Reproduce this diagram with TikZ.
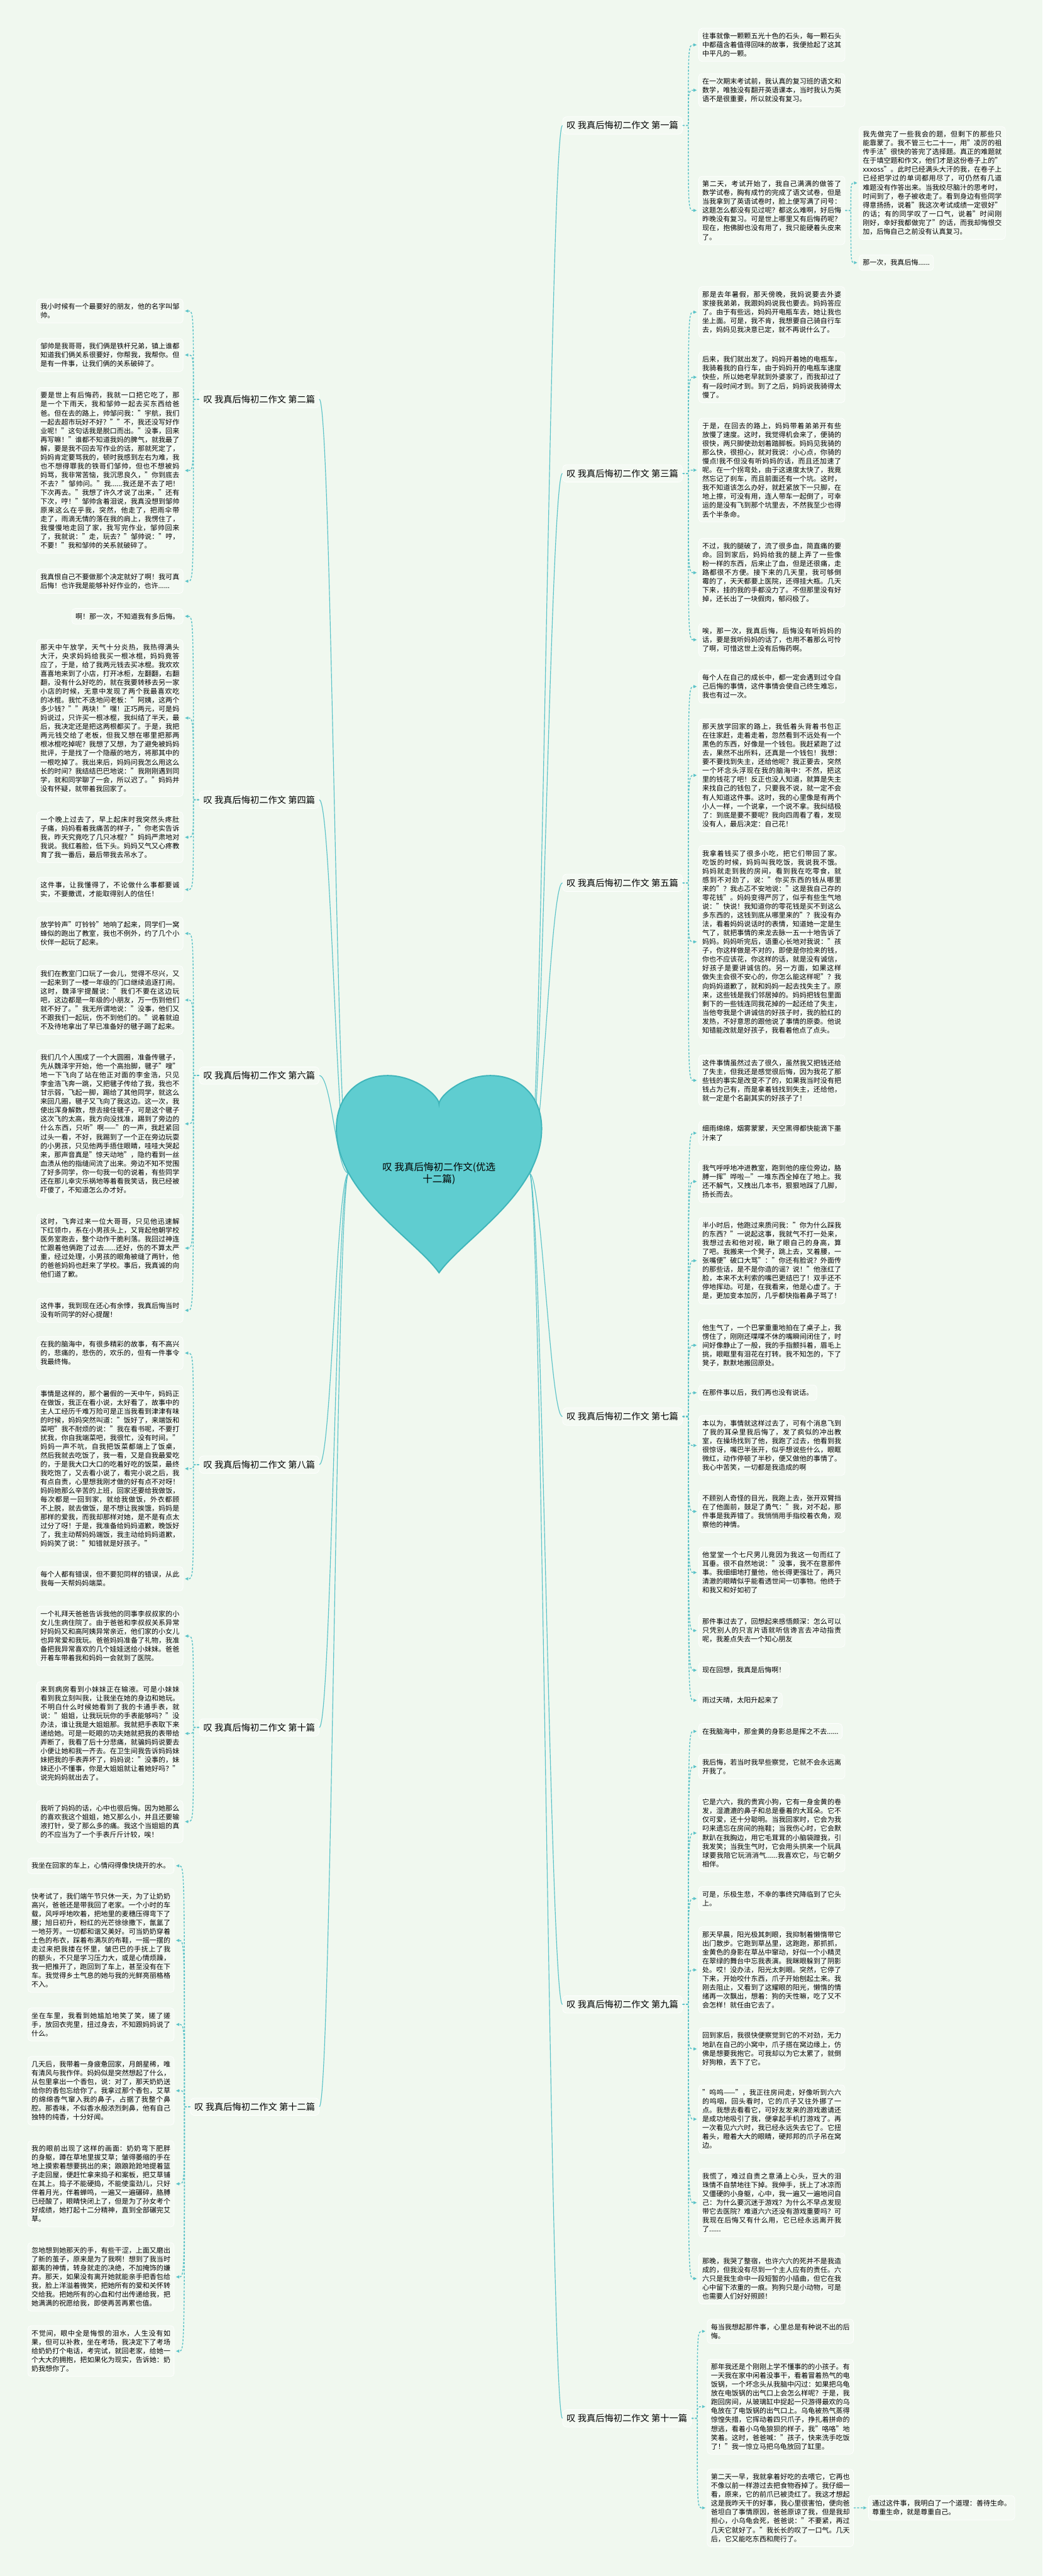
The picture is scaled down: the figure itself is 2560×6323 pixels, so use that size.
\documentclass[tikz,border=0pt]{standalone}
\usepackage{fontspec}
\setmainfont{Noto Sans CJK SC}
\usetikzlibrary{arrows.meta}
\XeTeXlinebreaklocale "zh"
\XeTeXlinebreakskip=0pt plus 1pt
\definecolor{bg}{HTML}{F0F8EF}
\definecolor{boxfill}{HTML}{F4FAF3}
\definecolor{linkcol}{HTML}{5BC3C8}
\definecolor{heartfill}{HTML}{5FCDD0}
\definecolor{heartline}{HTML}{3FB5BA}
\newcommand\leaffont{\fontsize{8.5pt}{10.85pt}\selectfont}
\newcommand\topicfont{\fontsize{11pt}{13pt}\selectfont}
\newcommand\rootfont{\fontsize{12pt}{15pt}\selectfont}

\begin{document}
\begin{tikzpicture}[x=0.5pt, y=-0.5pt,
    leaf/.style={draw=white, line width=0.6pt, fill=boxfill, rounded corners=4pt, font=\leaffont, text width=170.5pt, align=justify, inner xsep=4.5pt, inner ysep=5.5pt},
    shortleaf/.style={draw=white, line width=0.6pt, fill=boxfill, rounded corners=4pt, font=\leaffont, inner xsep=4.5pt, inner ysep=5.5pt},
    topic/.style={draw=white, line width=0.6pt, fill=boxfill, rounded corners=5pt, font=\topicfont, inner xsep=5pt, inner ysep=5.5pt},
    arr/.style={linkcol, line width=1.1pt, dash pattern=on 2.5pt off 1.8pt, -{Triangle[length=4pt,width=3.5pt]}, shorten >=2pt},
    rootline/.style={linkcol, line width=0.9pt}
]
\path[use as bounding box, fill=bg] (0,0) rectangle (2560,6323);

\coordinate (hr) at (1300,2880);
\coordinate (hl) at (856,2880);

% right side
\node[topic, anchor=west] (lab1) at (1381,308) {叹 我真后悔初二作文 第一篇};
\node[topic, anchor=west] (lab3) at (1381,1162) {叹 我真后悔初二作文 第三篇};
\node[topic, anchor=west] (lab5) at (1381,2167) {叹 我真后悔初二作文 第五篇};
\node[topic, anchor=west] (lab7) at (1381,3477) {叹 我真后悔初二作文 第七篇};
\node[topic, anchor=west] (lab9) at (1381,4920) {叹 我真后悔初二作文 第九篇};
\node[topic, anchor=west] (lab11) at (1381,5936) {叹 我真后悔初二作文 第十一篇};

% left side
\node[topic, anchor=east] (lab2) at (784,980) {叹 我真后悔初二作文 第二篇};
\node[topic, anchor=east] (lab4) at (784,1963) {叹 我真后悔初二作文 第四篇};
\node[topic, anchor=east] (lab6) at (784,2640) {叹 我真后悔初二作文 第六篇};
\node[topic, anchor=east] (lab8) at (784,3595) {叹 我真后悔初二作文 第八篇};
\node[topic, anchor=east] (lab10) at (784,4240) {叹 我真后悔初二作文 第十篇};
\node[topic, anchor=east] (lab12) at (784,5171) {叹 我真后悔初二作文 第十二篇};

\foreach \topicname in {lab1,lab3,lab5,lab7,lab9,lab11}
  \draw[rootline] (hr) .. controls +(30,0) and +(-30,0) .. (\topicname.west);
\foreach \topicname in {lab2,lab4,lab6,lab8,lab10,lab12}
  \draw[rootline] (hl) .. controls +(-30,0) and +(30,0) .. (\topicname.east);

\path[draw=heartline, fill=heartfill, line width=1.5pt] (1078,3124) .. controls (1018,3040) and (826,2930) .. (826,2770) .. controls (826,2690) and (880,2640) .. (952,2640) .. controls (1020,2640) and (1078,2690) .. (1078,2710) .. controls (1078,2690) and (1136,2640) .. (1204,2640) .. controls (1276,2640) and (1330,2690) .. (1330,2770) .. controls (1330,2930) and (1138,3040) .. (1078,3124) -- cycle;
\node[font=\rootfont, align=center] (root) at (1078,2880) {叹 我真后悔初二作文(优选\\十二篇)};

% essay one
\node[leaf, anchor=north west] (r1a) at (1715,69) {往事就像一颗颗五光十色的石头，每一颗石头中都蕴含着值得回味的故事，我便拾起了这其中平凡的一颗。};
\node[leaf, anchor=north west] (r1b) at (1715,180) {在一次期末考试前，我认真的复习班的语文和数学，唯独没有翻开英语课本，当时我认为英语不是很重要，所以就没有复习。};
\node[leaf, anchor=north west] (r1c) at (1715,432) {第二天，考试开始了，我自己满满的做答了数学试卷，胸有成竹的完成了语文试卷，但是当我拿到了英语试卷时，脸上便写满了问号：这题怎么都没有见过呢？都这么难啊，好后悔昨晚没有复习。可是世上哪里又有后悔药呢？现在，抱佛脚也没有用了，我只能硬着头皮来了。};
\node[leaf, anchor=north west] (r1d) at (2109,310) {我先做完了一些我会的题，但剩下的那些只能靠蒙了。我不管三七二十一，用"凌厉的祖传手法"很快的答完了选择题。真正的难题就在于填空题和作文，他们才是这份卷子上的"xxxoss"。此时已经满头大汗的我，在卷子上已经把学过的单词都用尽了，可仍然有几道难题没有作答出来。当我绞尽脑汁的思考时，时间到了，卷子被收走了。看到身边有些同学得意扬扬，说着"我这次考试成绩一定很好"的话；有的同学叹了一口气，说着"时间刚刚好，幸好我都做完了"的话，而我却悔恨交加，后悔自己之前没有认真复习。};
\node[shortleaf, anchor=north west] (r1e) at (2109,625) {那一次，我真后悔......};

% essay three
\node[leaf, anchor=north west] (r3a) at (1715,703) {那是去年暑假，那天傍晚，我妈说要去外婆家接我弟弟，我跟妈妈说我也要去。妈妈答应了。由于有些远，妈妈开电瓶车去，她让我也坐上面。可是，我不肯，我想要自己骑自行车去，妈妈见我决意已定，就不再说什么了。};
\node[leaf, anchor=north west] (r3b) at (1715,863) {后来，我们就出发了。妈妈开着她的电瓶车，我骑着我的自行车，由于妈妈开的电瓶车速度快些，所以她老早就到外婆家了，而我却过了有一段时间才到。到了之后，妈妈说我骑得太慢了。};
\node[leaf, anchor=north west] (r3c) at (1715,1026) {于是，在回去的路上，妈妈带着弟弟开有些放慢了速度。这时，我觉得机会来了，便骑的很快，两只脚使劲划着踏脚板。妈妈见我骑的那么快，很担心，就对我说：小心点，你骑的慢点!我不但没有听妈妈的话，而且还加速了呢。在一个拐弯处，由于这速度太快了，我竟然忘记了刹车，而且前面还有一个坑。这时，我不知道该怎么办好，就赶紧放下一只脚，在地上擦，可没有用，连人带车一起倒了，可幸运的是没有飞到那个坑里去，不然我至少也得丢个半条命。};
\node[leaf, anchor=north west] (r3d) at (1715,1321) {不过，我的腿破了，流了很多血，简直痛的要命。回到家后，妈妈给我的腿上弄了一些像粉一样的东西，后来止了血，但是还很痛，走路都很不方便。接下来的几天里，我可够倒霉的了，天天都要上医院，还得挂大瓶。几天下来，挂的我的手都没力了。不但那里没有好掉，还长出了一块假肉，郁闷极了。};
\node[leaf, anchor=north west] (r3e) at (1715,1529) {唉，那一次，我真后悔，后悔没有听妈妈的话，要是我听妈妈的话了，也用不着那么可怜了啊，可惜这世上没有后悔药啊。};

% essay five
\node[leaf, anchor=north west] (r5a) at (1715,1644) {每个人在自己的成长中，都一定会遇到过令自己后悔的事情，这件事情会使自己终生难忘，我也有过一次。};
\node[leaf, anchor=north west] (r5b) at (1715,1764) {那天放学回家的路上，我低着头背着书包正在往家赶，走着走着，忽然看到不远处有一个黑色的东西，好像是一个钱包。我赶紧跑了过去，果然不出所料，还真是一个钱包！我想：要不要找到失主，还给他呢？我正要去，突然一个坏念头浮现在我的脑海中：不然，把这里的钱花了吧！反正也没人知道，就算是失主来找自己的钱包了，只要我不说，就一定不会有人知道这件事。这时，我的心里像是有两个小人一样，一个说拿，一个说不拿。我纠结极了：到底是要不要呢？我向四周看了看，发现没有人，最后决定：自己花！};
\node[leaf, anchor=north west] (r5c) at (1715,2075) {我拿着钱买了很多小吃，把它们带回了家。吃饭的时候，妈妈叫我吃饭，我说我不饿。妈妈就走到我的房间，看到我在吃零食，就感到不对劲了，说："你买东西的钱从哪里来的"？我忐忑不安地说："这是我自己存的零花钱"。妈妈变得严厉了，似乎有些生气地说："快说！我知道你的零花钱是买不到这么多东西的，这钱到底从哪里来的"？我没有办法，看着妈妈说话时的表情，知道她一定是生气了，就把事情的来龙去脉一五一十地告诉了妈妈。妈妈听完后，语重心长地对我说："孩子，你这样做是不对的，即使是你捡来的钱，你也不应该花，你这样的话，就是没有诚信，好孩子是要讲诚信的。另一方面，如果这样做失主会很不安心的，你怎么能这样呢"？我向妈妈道歉了，就和妈妈一起去找失主了。原来，这些钱是我们邻居掉的。妈妈把钱包里面剩下的一些钱连同我花掉的一起还给了失主，当他夸我是个讲诚信的好孩子时，我的脸红的发热，不好意思的跟他说了事情的原委。他说知错能改就是好孩子，我看着他点了点头。};
\node[leaf, anchor=north west] (r5d) at (1715,2589) {这件事情虽然过去了很久，虽然我又把钱还给了失主，但我还是感觉很后悔，因为我花了那些钱的事实是改变不了的，如果我当时没有把钱占为己有，而是拿着钱找到失主，还给他，就一定是个名副其实的好孩子了！};

% essay seven
\node[leaf, anchor=north west] (r7a) at (1715,2751) {细雨绵绵，烟雾蒙蒙，天空黑得都快能滴下墨汁来了};
\node[leaf, anchor=north west] (r7b) at (1715,2848) {我气呼呼地冲进教室，跑到他的座位旁边，胳膊一挥"哗啦—"一堆东西全掉在了地上。我还不解气，又拽出几本书，狠狠地踩了几脚，扬长而去。};
\node[leaf, anchor=north west] (r7c) at (1715,2988) {半小时后，他跑过来质问我："你为什么踩我的东西？"一说起这事，我就气不打一处来，我想过去和他对视，瞅了眼自己的身高，算了吧。我搬来一个凳子，跳上去，叉着腰，一张嘴便"破口大骂"："你还有脸说？外面传的那些话，是不是你造的谣？说！"他涨红了脸，本来不太利索的嘴巴更结巴了！双手还不停地挥动。可是，在我看来，他是心虚了。于是，更加变本加厉，几乎都快指着鼻子骂了！};
\node[leaf, anchor=north west] (r7d) at (1715,3239) {他生气了，一个巴掌重重地拍在了桌子上，我愣住了，刚刚还喋喋不休的嘴瞬间闭住了，时间好像静止了一般，我的手指颤抖着，眉毛上挑，眼眶里有泪花在打转。我不知怎的，下了凳子，默默地搬回原处。};
\node[shortleaf, anchor=north west] (r7e) at (1715,3399) {在那件事以后，我们再也没有说话。};
\node[leaf, anchor=north west] (r7f) at (1715,3474) {本以为，事情就这样过去了，可有个消息飞到了我的耳朵里我后悔了，发了疯似的冲出教室，在操场找到了他，我跑了过去，他看到我很惊讶，嘴巴半张开，似乎想说些什么，眼眶微红，动作停顿了半秒，便又做他的事情了。我心中苦笑，一切都是我造成的啊};
\node[leaf, anchor=north west] (r7g) at (1715,3658) {不顾别人奇怪的目光，我跑上去，张开双臂挡在了他面前，鼓足了勇气："我，对不起，那件事是我弄错了。我悄悄用手指绞着衣角，观察他的神情。};
\node[leaf, anchor=north west] (r7h) at (1715,3797) {他堂堂一个七尺男儿竟因为我这一句而红了耳垂。很不自然地说："没事，我不在意那件事。我细细地打量他，他长得更强壮了，两只清澈的眼睛似乎能看透世间一切事物。他终于和我又和好如初了};
\node[leaf, anchor=north west] (r7i) at (1715,3961) {那件事过去了，回想起来感悟颇深：怎么可以只凭别人的只言片语就听信谗言去冲动指责呢，我差点失去一个知心朋友};
\node[shortleaf, anchor=north west] (r7j) at (1715,4080) {现在回想，我真是后悔啊！};
\node[shortleaf, anchor=north west] (r7k) at (1715,4154) {雨过天晴，太阳升起来了};

% essay nine
\node[shortleaf, anchor=north west] (r9a) at (1715,4230) {在我脑海中，那金黄的身影总是挥之不去......};
\node[leaf, anchor=north west] (r9b) at (1715,4306) {我后悔，若当时我早些察觉，它就不会永远离开我了。};
\node[leaf, anchor=north west] (r9c) at (1715,4404) {它是六六，我的贵宾小狗，它有一身金黄的卷发，湿漉漉的鼻子和总是垂着的大耳朵。它不仅可爱，还十分聪明。当我回家时，它会为我叼来遗忘在房间的拖鞋；当我伤心时，它会默默趴在我胸边，用它毛茸茸的小脑袋蹭我，引我发笑；当我生气时，它会用头拱来一个玩具球要我陪它玩消消气......我喜欢它，与它朝夕相伴。};
\node[leaf, anchor=north west] (r9d) at (1715,4630) {可是，乐极生悲，不幸的事终究降临到了它头上。};
\node[leaf, anchor=north west] (r9e) at (1715,4729) {那天早晨，阳光极其刺眼，我抑制着懒惰带它出门散步。它跑到草丛里，这跑跑，那抓抓，金黄色的身影在草丛中窜动，好似一个小精灵在翠绿的舞台中忘我表演。我眯眼躲到了阴影处。哎！没办法，阳光太刺眼。突然，它停了下来，开始咬什东西，爪子开始刨起土来。我刚去阻止，又看到了这耀眼的阳光，懒惰的情绪再一次飘出，想着：狗的天性嘛，吃了又不会怎样！就任由它去了。};
\node[leaf, anchor=north west] (r9f) at (1715,4977) {回到家后，我很快便察觉到它的不对劲，无力地趴在自己的小窝中，爪子搭在窝边缘上，仿佛是想要我抱它。可我却以为它太累了，就倒好狗粮，丢下了它。};
\node[leaf, anchor=north west] (r9g) at (1715,5117) {"呜呜——"，我正往房间走，好像听到六六的呜咽，回头看时，它的爪子又往外挪了一点。我想去看看它，可好友发来的游戏邀请还是成功地吸引了我，便拿起手机打游戏了。再一次看见六六时，我已经永远失去它了。它扭着头，瞪着大大的眼睛，硬邦邦的爪子吊在窝边。};
\node[leaf, anchor=north west] (r9h) at (1715,5322) {我慌了，难过自责之意涌上心头，豆大的泪珠情不自禁地往下掉。我伸手，抚上了冰凉而又僵硬的小身躯，心中，我一遍又一遍地问自己：为什么要沉迷于游戏？为什么不早点发现带它去医院？难道六六还没有游戏重要吗？可我现在后悔又有什么用，它已经永远离开我了......};
\node[leaf, anchor=north west] (r9i) at (1715,5530) {那晚，我哭了整宿，也许六六的死并不是我造成的，但我没有尽到一个主人应有的责任。六六只是我生命中一段短暂的小插曲，但它在我心中留下浓重的一痕。狗狗只是小动物，可是也需要人们好好照顾！};

% essay eleven
\node[leaf, anchor=north west] (r11a) at (1736,5692) {每当我想起那件事，心里总是有种说不出的后悔。};
\node[leaf, anchor=north west] (r11b) at (1736,5790) {那年我还是个刚刚上学不懂事的的小孩子。有一天我在家中闲着没事干，看着冒着热气的电饭锅，一个坏念头从我脑中闪过：如果把乌龟放在电饭锅的出气口上会怎么样呢？于是，我跑回房间，从玻璃缸中捉起一只游得最欢的乌龟放在了电饭锅的出气口上。乌龟被热气蒸得惊惶失措，它挥动着四只爪子，挣扎着拼命的想逃，看着小乌龟狼狈的样子，我"咯咯"地笑着。这时，爸爸喊："孩子，快来洗手吃饭了！"我一惊立马把乌龟放回了缸里。};
\node[leaf, anchor=north west] (r11c) at (1736,6060) {第二天一早，我就拿着好吃的去喂它，它再也不像以前一样游过去把食物吞掉了。我仔细一看，原来，它的前爪已被烫红了。我这才想起这是我昨天干的好事，我心里很害怕，便向爸爸坦白了事情原因，爸爸原谅了我，但是我却担心，小乌龟会死，爸爸说："不要紧，再过几天它就好了。"我长长的叹了一口气。几天后，它又能吃东西和爬行了。};
\node[leaf, anchor=north west] (r11d) at (2132,6125) {通过这件事，我明白了一个道理：善待生命。尊重生命，就是尊重自己。};

% essay two
\node[leaf, anchor=north east] (l2a) at (450,733) {我小时候有一个最要好的朋友，他的名字叫邹帅。};
\node[leaf, anchor=north east] (l2b) at (450,830) {邹帅是我哥哥，我们俩是铁杆兄弟，镇上谁都知道我们俩关系很要好，你帮我，我帮你。但是有一件事，让我们俩的关系破碎了。};
\node[leaf, anchor=north east] (l2c) at (450,951) {要是世上有后悔药，我就一口把它吃了，那是一个下雨天，我和邹帅一起去买东西给爸爸。但在去的路上，帅邹问我："宇航，我们一起去超市玩好不好？""不，我还没写好作业呢！"这句话我是脱口而出。"没事，回来再写嘛！"谁都不知道我妈的脾气，就我最了解，要是我不回去写作业的话，那就死定了，妈妈肯定要骂我的，顿时我感到左右为难，我也不想得罪我的铁哥们邹帅，但也不想被妈妈骂，我非常苦恼，我沉思良久，"你到底去不去？"邹帅问。"我......我还是不去了吧！下次再去。"我想了许久才说了出来，"还有下次，哼！"邹帅含着泪说，我真没想到邹帅原来这么在乎我，突然，他走了，把雨伞带走了，雨滴无情的落在我的肩上，我愣住了，我慢慢地走回了家，我写完作业，邹帅回来了，我就说："走，玩去？"邹帅说："哼，不要！"我和邹帅的关系就破碎了。};
\node[leaf, anchor=north east] (l2d) at (450,1396) {我真恨自己不要做那个决定就好了啊！我可真后悔！也许我是能够补好作业的，也许......};

% essay four
\node[shortleaf, anchor=north east] (l2e) at (450,1493) {啊！那一次，不知道我有多后悔。};
\node[leaf, anchor=north east] (l4a) at (450,1569) {那天中午放学，天气十分炎热，我热得满头大汗，央求妈妈给我买一根冰棍，妈妈竟答应了，于是，给了我两元钱去买冰棍。我欢欢喜喜地来到了小店，打开冰柜，左翻翻，右翻翻，没有什么好吃的，就在我要转移去另一家小店的时候，无意中发现了两个我最喜欢吃的冰棍。我忙不迭地问老板："阿姨，这两个多少钱？""两块！"嘿！正巧两元，可是妈妈说过，只许买一根冰棍，我纠结了半天，最后，我决定还是把这两根都买了。于是，我把两元钱交给了老板，但我又想在哪里把那两根冰棍吃掉呢？我想了又想，为了避免被妈妈批评，于是找了一个隐蔽的地方，将那其中的一根吃掉了。我出来后，妈妈问我怎么用这么长的时间？我结结巴巴地说："我刚刚遇到同学，就和同学聊了一会，所以迟了。"妈妈并没有怀疑，就带着我回家了。};
\node[leaf, anchor=north east] (l4b) at (450,1992) {一个晚上过去了，早上起床时我突然头疼肚子痛，妈妈看着我痛苦的样子，"你老实告诉我，昨天究竟吃了几只冰棍？"妈妈严肃地对我说。我红着脸，低下头。妈妈又气又心疼教育了我一番后，最后带我去吊水了。};
\node[leaf, anchor=north east] (l4c) at (450,2153) {这件事，让我懂得了，不论做什么事都要诚实，不要撒谎，才能取得别人的信任！};

% essay six
\node[leaf, anchor=north east] (l6a) at (450,2250) {放学铃声"叮铃铃"地响了起来，同学们一窝蜂似的跑出了教室，我也不例外，约了几个小伙伴一起玩了起来。};
\node[leaf, anchor=north east] (l6b) at (450,2370) {我们在教室门口玩了一会儿，觉得不尽兴，又一起来到了一楼一年级的门口继续追逐打闹。这时，魏泽宇提醒说："我们不要在这边玩吧，这边都是一年级的小朋友，万一伤到他们就不好了。"我无所谓地说："没事，他们又不跟我们一起玩，伤不到他们的。"说着就迫不及待地拿出了早已准备好的毽子踢了起来。};
\node[leaf, anchor=north east] (l6c) at (450,2576) {我们几个人围成了一个大圆圈，准备传毽子，先从魏泽宇开始，他一个高抬脚，毽子"嗖"地一下飞向了站在他正对面的李金浩，只见李金浩飞奔一跳，又把毽子传给了我，我也不甘示弱，飞起一脚，踢给了其他同学，就这么来回几圈，毽子又飞向了我这边。这一次，我使出浑身解数，想去接住毽子，可是这个毽子这次飞的太高，我方向没找准，踢到了旁边的什么东西，只听"啊——"的一声，我赶紧回过头一看，不好，我踢到了一个正在旁边玩耍的小男孩，只见他两手捂住眼睛，哇哇大哭起来，那声音真是"惊天动地"，隐约看到一丝血渍从他的指缝间流了出来。旁边不知不觉围了好多同学，你一句我一句的说着，有些同学还在那儿幸灾乐祸地等着看我笑话，我已经被吓傻了，不知道怎么办才好。};
\node[leaf, anchor=north east] (l6d) at (450,2979) {这时，飞奔过来一位大哥哥，只见他迅速解下红领巾，系在小男孩头上，又背起他朝学校医务室跑去，整个动作干脆利落。我回过神连忙跟着他俩跑了过去......还好，伤的不算太严重，经过处理，小男孩的眼角被缝了两针，他的爸爸妈妈也赶来了学校。事后，我真诚的向他们道了歉。};
\node[leaf, anchor=north east] (l6e) at (450,3186) {这件事，我到现在还心有余悸，我真后悔当时没有听同学的好心提醒！};

% essay eight
\node[leaf, anchor=north east] (l8a) at (450,3280) {在我的脑海中，有很多精彩的故事，有不高兴的，悲痛的，悲伤的，欢乐的，但有一件事令我最终悔。};
\node[leaf, anchor=north east] (l8b) at (450,3401) {事情是这样的，那个暑假的一天中午，妈妈正在做饭，我正在看小说，太好看了，故事中的主人工经历千难万险可是正当我看到津津有味的时候，妈妈突然叫道："饭好了，来端饭和菜吧"我不耐烦的说："我在看书呢，不要打扰我，你自我端菜吧，我很忙，没有时间。"妈妈一声不吭，自我把饭菜都端上了饭桌，然后我就去吃饭了，我一看，又是自我最爱吃的，于是我大口大口的吃着好吃的饭菜，最终我吃饱了，又去看小说了，看完小说之后，我有点自责，心里想我刚才做的好有点不对呀！妈妈她那么辛苦的上班，回家还要给我做饭，每次都是一回到家，就给我做饭，外衣都顾不上脱，就去做饭，是不想让我挨饿，妈妈是那样的爱我，而我却那样对她，是不是有点太过分了呀！于是，我准备给妈妈道歉，晚饭好了，我主动帮妈妈端饭，我主动给妈妈道歉，妈妈笑了说："知错就是好孩子。"};
\node[leaf, anchor=north east] (l8c) at (450,3845) {每个人都有错误，但不要犯同样的错误，从此我每一天帮妈妈端菜。};

% essay ten
\node[leaf, anchor=north east] (l10a) at (450,3942) {一个礼拜天爸爸告诉我他的同事李叔叔家的小女儿生病住院了。由于爸爸和李叔叔关系异常好妈妈又和高阿姨异常亲近，他们家的小女儿也异常爱和我玩。爸爸妈妈准备了礼物，我准备把我异常喜欢的几个娃娃送给小妹妹。爸爸开着车带着我和妈妈一会就到了医院。};
\node[leaf, anchor=north east] (l10b) at (450,4127) {来到病房看到小妹妹正在输液。可是小妹妹看到我立刻叫我，让我坐在她的身边和她玩。不明白什么时候她看到了我的卡通手表，就说："姐姐，让我玩玩你的手表能够吗？"没办法，谁让我是大姐姐那。我就把手表取下来递给她。可是一眨眼的功夫她就把我的表带给弄断了，我看了后十分悲痛，就骗妈妈说要去小便让她和我一齐去。在卫生间我告诉妈妈妹妹把我的手表弄坏了，妈妈说："没事的，妹妹还小不懂事，你是大姐姐就让着她好吗？"说完妈妈就出去了。};
\node[leaf, anchor=north east] (l10c) at (450,4419) {我听了妈妈的话，心中也很后悔。因为她那么的喜欢我这个姐姐，她又那么小，并且还要输液打针，受了那么多的痛。我这个当姐姐的真的不应当为了一个手表斤斤计较，唉！};

% essay twelve
\node[leaf, anchor=north east] (l12a) at (428,4560) {我坐在回家的车上，心情闷得像快烧开的水。};
\node[leaf, anchor=north east] (l12b) at (428,4635) {快考试了，我们端午节只休一天，为了让奶奶高兴，爸爸还是带我回了老家。一个小时的车载，风呼呼地吹着，把地里的麦穗压得弯下了腰；旭日初升，粉红的光芒徐徐撒下，氤氲了一地芬芳。一切都和谐又美好。可当奶奶穿着土色的布衣，踩着布满灰的布鞋，一摇一摆的走过来把我搂在怀里，皱巴巴的手抚上了我的额头，不只是学习压力大，或是心情烦躁，我一把推开了，跑回到了车上，甚至没有在下车。我觉得乡土气息的她与我的光鲜亮丽格格不入。};
\node[leaf, anchor=north east] (l12c) at (428,4928) {坐在车里，我看到她尴尬地笑了笑，搓了搓手，放回衣兜里，扭过身去，不知跟妈妈说了什么。};
\node[leaf, anchor=north east] (l12d) at (428,5047) {几天后，我带着一身疲惫回家，月朗星稀，唯有清风与我作伴。妈妈似是突然想起了什么，从包里拿出一个香包，说：对了，那天奶奶送给你的香包忘给你了。我拿过那个香包，艾草的绵绵香气窜入我的鼻子，占据了我整个鼻腔。那香味，不似香水般浓烈刺鼻，他有自己独特的纯香，十分好闻。};
\node[leaf, anchor=north east] (l12e) at (428,5254) {我的眼前出现了这样的画面：奶奶弯下肥胖的身躯，蹲在草地里拔艾草；皱得萎缩的手在地上摸索着想要挑出的来；踉踉跄跄地提着篮子走回屋，便赶忙拿来捣子和案板，把艾草铺在其上。捣子不能硬捣，不能使蛮劲儿，只好伴着月光，伴着蝉鸣，一遍又一遍碾碎，胳膊已经酸了，眼睛快闭上了，但是为了孙女考个好成绩，她打起十二分精神，直到全部碾完艾草。};
\node[leaf, anchor=north east] (l12f) at (428,5504) {忽地想到她那天的手，有些干涩，上面又磨出了新的茧子，原来是为了我啊！想到了我当时鄙夷的神情，转身就走的决绝，不加掩饰的嫌弃。那天，如果没有离开她就能亲手把香包给我，脸上洋溢着微笑，把她所有的爱和关怀转交给我。把她所有的心血和付出传递给我，把她满满的祝愿给我，即使再苦再累也值。};
\node[leaf, anchor=north east] (l12g) at (428,5708) {不觉间，眼中全是悔恨的泪水，人生没有如果，但可以补救，坐在考场，我决定下了考场给奶奶打个电话，考完试，就回老家，给她一个大大的拥抱，把如果化为现实，告诉她：奶奶我想你了。};

% connectors
\foreach \leafname in {r1a,r1b,r1c}
  \draw[arr] (lab1.east) -- ++(14,0) coordinate (k) .. controls (k |- \leafname.west) .. (\leafname.west);
\foreach \leafname in {r1d,r1e}
  \draw[arr] (r1c.east) -- ++(14,0) coordinate (k) .. controls (k |- \leafname.west) .. (\leafname.west);
\foreach \leafname in {r3a,r3b,r3c,r3d,r3e}
  \draw[arr] (lab3.east) -- ++(14,0) coordinate (k) .. controls (k |- \leafname.west) .. (\leafname.west);
\foreach \leafname in {r5a,r5b,r5c,r5d}
  \draw[arr] (lab5.east) -- ++(14,0) coordinate (k) .. controls (k |- \leafname.west) .. (\leafname.west);
\foreach \leafname in {r7a,r7b,r7c,r7d,r7e,r7f,r7g,r7h,r7i,r7j,r7k}
  \draw[arr] (lab7.east) -- ++(14,0) coordinate (k) .. controls (k |- \leafname.west) .. (\leafname.west);
\foreach \leafname in {r9a,r9b,r9c,r9d,r9e,r9f,r9g,r9h,r9i}
  \draw[arr] (lab9.east) -- ++(14,0) coordinate (k) .. controls (k |- \leafname.west) .. (\leafname.west);
\foreach \leafname in {r11a,r11b,r11c}
  \draw[arr] (lab11.east) -- ++(14,0) coordinate (k) .. controls (k |- \leafname.west) .. (\leafname.west);
\draw[arr] (r11c.east) -- (r11d.west);

\foreach \leafname in {l2a,l2b,l2c,l2d}
  \draw[arr] (lab2.west) -- ++(-14,0) coordinate (k) .. controls (k |- \leafname.east) .. (\leafname.east);
\foreach \leafname in {l2e,l4a,l4b,l4c}
  \draw[arr] (lab4.west) -- ++(-14,0) coordinate (k) .. controls (k |- \leafname.east) .. (\leafname.east);
\foreach \leafname in {l6a,l6b,l6c,l6d,l6e}
  \draw[arr] (lab6.west) -- ++(-14,0) coordinate (k) .. controls (k |- \leafname.east) .. (\leafname.east);
\foreach \leafname in {l8a,l8b,l8c}
  \draw[arr] (lab8.west) -- ++(-14,0) coordinate (k) .. controls (k |- \leafname.east) .. (\leafname.east);
\foreach \leafname in {l10a,l10b,l10c}
  \draw[arr] (lab10.west) -- ++(-14,0) coordinate (k) .. controls (k |- \leafname.east) .. (\leafname.east);
\foreach \leafname in {l12a,l12b,l12c,l12d,l12e,l12f,l12g}
  \draw[arr] (lab12.west) -- ++(-14,0) coordinate (k) .. controls (k |- \leafname.east) .. (\leafname.east);
\end{tikzpicture}
\end{document}
